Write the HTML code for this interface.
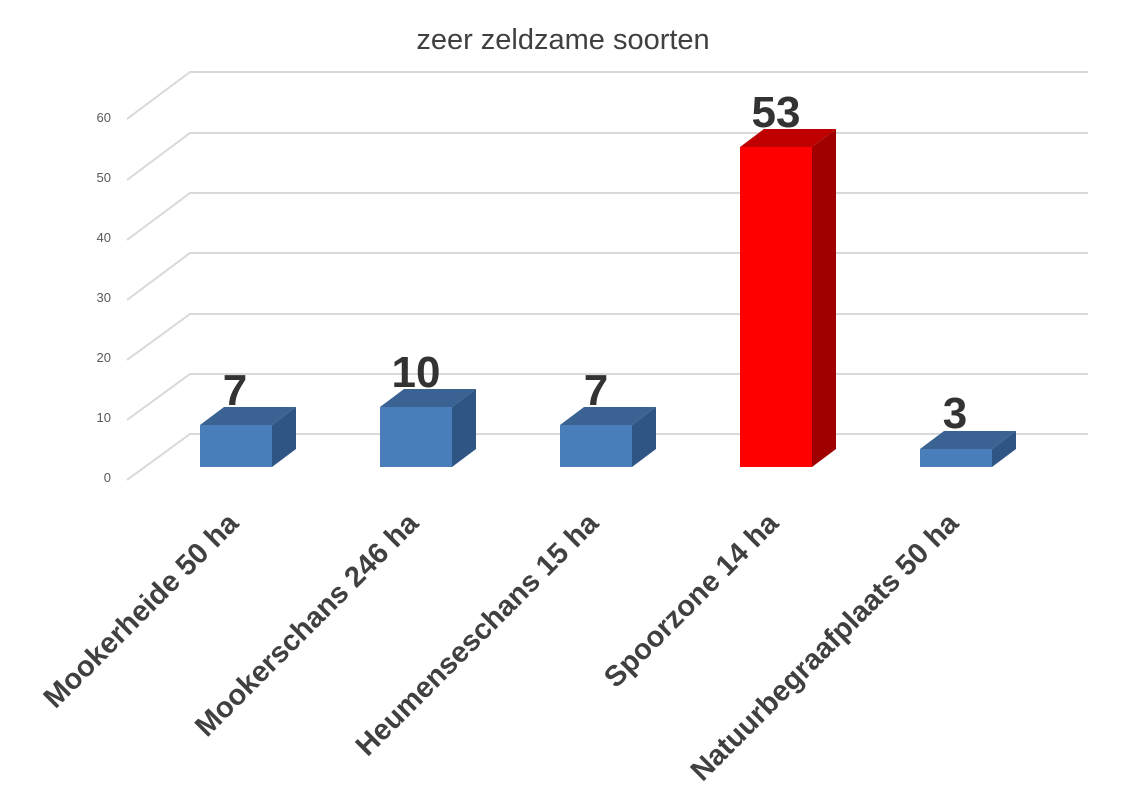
<!DOCTYPE html>
<html><head><meta charset="utf-8"><style>html,body{margin:0;padding:0;background:#fff}svg{display:block}</style></head>
<body>
<svg width="1127" height="800" viewBox="0 0 1127 800" xmlns="http://www.w3.org/2000/svg" font-family="Liberation Sans, sans-serif">
<text x="563" y="49" text-anchor="middle" font-size="29" fill="#404040">zeer zeldzame soorten</text>
<g stroke="#d9d9d9" stroke-width="2" fill="none">
<polyline points="127,480 190,434 1088,434"/>
<polyline points="127,420 190,374 1088,374"/>
<polyline points="127,360 190,314 1088,314"/>
<polyline points="127,300 190,253 1088,253"/>
<polyline points="127,240 190,193 1088,193"/>
<polyline points="127,180 190,133 1088,133"/>
<polyline points="127,119 190,72 1088,72"/>
</g>
<g font-size="13" fill="#595959" text-anchor="end">
<text x="111" y="482">0</text><text x="111" y="422">10</text><text x="111" y="362">20</text><text x="111" y="302">30</text><text x="111" y="242">40</text><text x="111" y="182">50</text><text x="111" y="122">60</text>
</g>
<g>
<polygon points="200,425 224,407 296,407 272,425" fill="#3a6292"/><polygon points="272,425 296,407 296,449 272,467" fill="#2f5585"/><rect x="200" y="425" width="72" height="42" fill="#4a7ebb"/>
<polygon points="380,407 404,389 476,389 452,407" fill="#3a6292"/><polygon points="452,407 476,389 476,449 452,467" fill="#2f5585"/><rect x="380" y="407" width="72" height="60" fill="#4a7ebb"/>
<polygon points="560,425 584,407 656,407 632,425" fill="#3a6292"/><polygon points="632,425 656,407 656,449 632,467" fill="#2f5585"/><rect x="560" y="425" width="72" height="42" fill="#4a7ebb"/>
<polygon points="740,147 764,129 836,129 812,147" fill="#c00000"/><polygon points="812,147 836,129 836,449 812,467" fill="#a00000"/><rect x="740" y="147" width="72" height="320" fill="#ff0000"/>
<polygon points="920,449 944,431 1016,431 992,449" fill="#3a6292"/><polygon points="992,449 1016,431 1016,449 992,467" fill="#2f5585"/><rect x="920" y="449" width="72" height="18" fill="#4a7ebb"/>
</g>
<g font-size="44" font-weight="bold" fill="#333" text-anchor="middle">
<text x="235" y="405">7</text><text x="416" y="387">10</text><text x="596" y="405">7</text><text x="776" y="127">53</text><text x="955" y="428">3</text>
</g>
<g font-size="29" font-weight="bold" fill="#404040" text-anchor="end">
<text transform="translate(240,525) rotate(-45)">Mookerheide 50 ha</text>
<text transform="translate(420,525) rotate(-45)">Mookerschans 246 ha</text>
<text transform="translate(600,525) rotate(-45)">Heumenseschans 15 ha</text>
<text transform="translate(780,525) rotate(-45)">Spoorzone 14 ha</text>
<text transform="translate(960,525) rotate(-45)">Natuurbegraafplaats 50 ha</text>
</g>
</svg>
</body></html>
